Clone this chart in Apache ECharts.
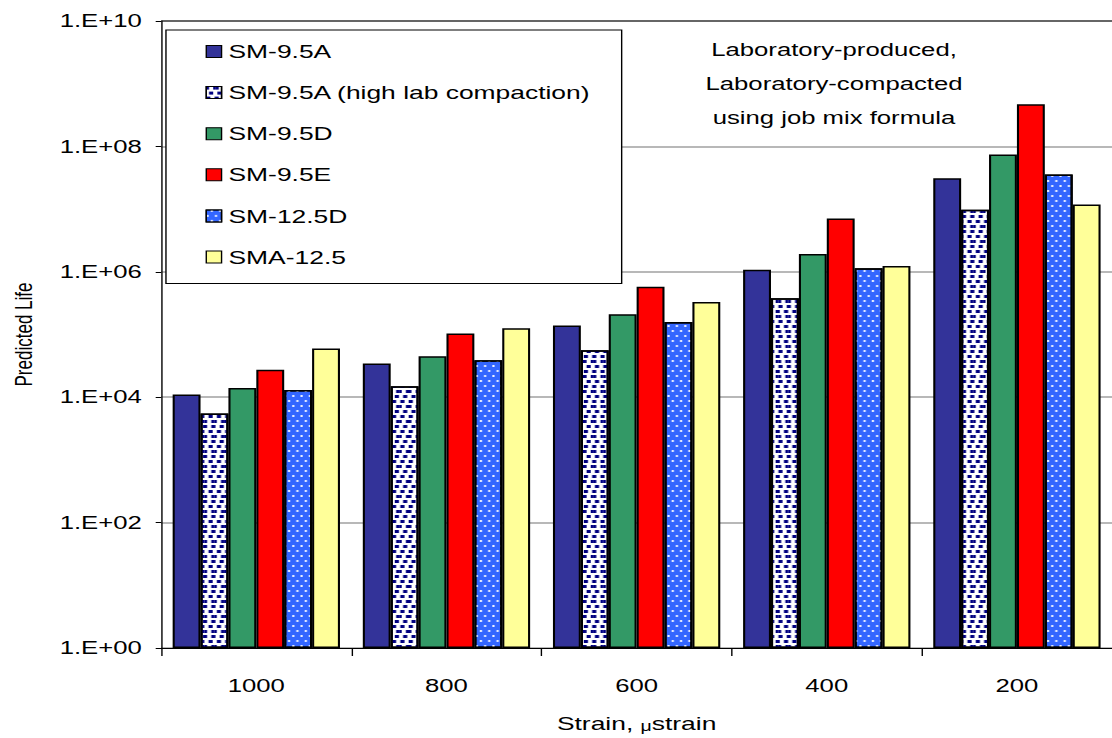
<!DOCTYPE html>
<html>
<head>
<meta charset="utf-8">
<script src="https://cdn.jsdelivr.net/npm/echarts@6/dist/echarts.min.js"></script>
<style>
html,body{margin:0;padding:0;background:#fff;overflow:hidden;}
#chart{width:800px;height:738px;transform:scaleX(1.39);transform-origin:0 0;}
</style>
</head>
<body>
<div id="chart"></div>
<script>
const categories = ['1000', '800', '600', '400', '200'];
const seriesNames = ['SM-9.5A', 'SM-9.5A (high lab compaction)', 'SM-9.5D', 'SM-9.5E', 'SM-12.5D', 'SMA-12.5'];
const sm95A     = [1.1e4, 3.45e4, 1.39e5, 1.08e6, 3.1e7];
const sm95AHigh = [5.5e3, 1.5e4, 5.6e4, 3.8e5, 9.8e6];
const sm95D     = [1.4e4, 4.5e4, 2.1e5, 1.93e6, 7.4e7];
const sm95E     = [2.75e4, 1.04e5, 5.8e5, 7.1e6, 4.7e8];
const sm125D    = [1.3e4, 3.9e4, 1.58e5, 1.14e6, 3.56e7];
const sma125    = [6.0e4, 1.26e5, 3.3e5, 1.24e6, 1.18e7];
const annotationLines = ['Laboratory-produced,', 'Laboratory-compacted', 'using job mix formula'];

const FONT = "'Liberation Sans', Arial, sans-serif";
const colors = ['#333399', '#FFFFFF', '#339966', '#FF0000', '#3366FF', '#FFFF99'];
const decals = [
  null,
  { symbol: 'rect', symbolSize: 1, color: '#000080',
    dashArrayX: [[2.5, 2.1], [1.2, 2.1, 1.3, 0], [0, 1.2, 2.5, 0.9]], dashArrayY: [2.5, 1.3] },
  null, null,
  { symbol: 'circle', symbolSize: 1, color: '#FFFFFF',
    dashArrayX: [[1.5, 3.5], [0, 2.5, 1.5, 1]], dashArrayY: [2, 2.8] },
  null
];
const values = [sm95A, sm95AHigh, sm95D, sm95E, sm125D, sma125];

const chart = echarts.init(document.getElementById('chart'), null, { renderer: 'svg' });

const series = seriesNames.map((name, i) => {
  const itemStyle = { color: colors[i], borderColor: '#000', borderWidth: 1.5 };
  if (decals[i]) itemStyle.decal = decals[i];
  return {
    name: name, type: 'bar', data: values[i],
    barGap: '0%', barCategoryGap: '12%',
    itemStyle: itemStyle, emphasis: { disabled: true }
  };
});

chart.setOption({
  animation: false,
  textStyle: { fontFamily: FONT },
  grid: { left: 111.5, top: 21, width: 694, bottom: 89, containLabel: false },
  legend: {
    orient: 'vertical', left: 119.4, top: 30,
    padding: [12, 22, 17, 28.5],
    itemGap: 22.1, itemWidth: 11, itemHeight: 12,
    icon: 'rect',
    borderColor: '#000', borderWidth: 1, backgroundColor: '#fff',
    textStyle: { fontSize: 19, fontFamily: FONT, color: '#000', lineHeight: 19 },
    itemStyle: { borderColor: '#000', borderWidth: 1 },
    selectedMode: false
  },
  xAxis: {
    type: 'category', data: categories,
    name: 'Strain, {mu|μ}strain', nameLocation: 'middle', nameGap: 65,
    nameTextStyle: { fontSize: 19, color: '#000', fontFamily: FONT,
      rich: { mu: { fontSize: 14, verticalAlign: 'bottom', padding: [6, 0, 0, 0], fontFamily: FONT } } },
    axisLine: { lineStyle: { color: '#000', width: 1 } },
    axisTick: { show: true, length: 8, lineStyle: { color: '#000' } },
    axisLabel: { fontSize: 18.5, color: '#000', margin: 28, fontFamily: FONT }
  },
  yAxis: {
    type: 'log', logBase: 10, min: 1, max: 1e10, interval: 2,
    name: 'Predicted Life', nameLocation: 'middle', nameGap: 91, nameRotate: 90,
    nameTextStyle: { fontSize: 17, color: '#000', fontFamily: FONT },
    axisLine: { show: true, lineStyle: { color: '#000', width: 1 } },
    axisTick: { show: true, length: 4, lineStyle: { color: '#000' } },
    axisLabel: {
      fontSize: 18.5, color: '#000', margin: 14, fontFamily: FONT,
      formatter: function (v) {
        const e = Math.round(Math.log10(v));
        return '1.E+' + (e < 10 ? '0' + e : e);
      }
    },
    splitLine: { show: true, lineStyle: { color: ['#A0A0A0', '#A0A0A0', '#A0A0A0', '#A0A0A0', '#A0A0A0', '#333333'], width: 1.5 } }
  },
  graphic: [{
    type: 'text', x: 600, y: 33,
    style: {
      text: annotationLines.join('\n'), fontSize: 18.5, fontFamily: FONT,
      fill: '#000', lineHeight: 34, align: 'center', verticalAlign: 'top'
    }
  }],
  series: series
});
</script>
</body>
</html>
